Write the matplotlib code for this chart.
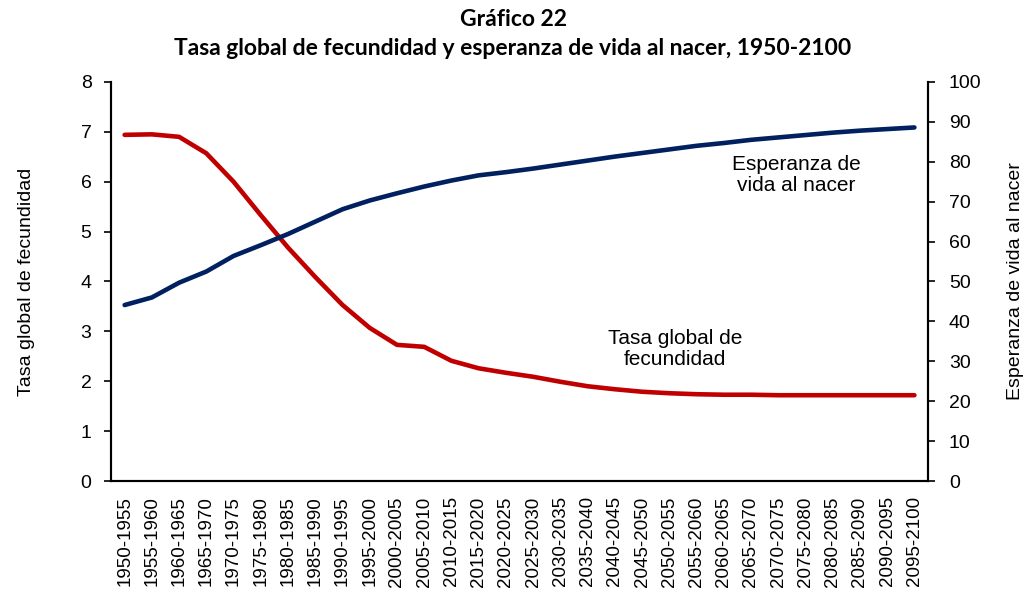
import matplotlib
matplotlib.use("Agg")
import matplotlib.pyplot as plt
import numpy as np

# quinquenios
periodos = ["%d-%d" % (a, a + 5) for a in range(1950, 2100, 5)]

# tasa global de fecundidad (eje izq)
tgf = [6.94, 6.95, 6.90, 6.57, 6.00, 5.33, 4.68, 4.09, 3.53, 3.07,
       2.73, 2.69, 2.41, 2.26, 2.17, 2.09, 1.99, 1.90, 1.84, 1.79,
       1.76, 1.74, 1.73, 1.73, 1.72, 1.72, 1.72, 1.72, 1.72, 1.72]

# esperanza de vida al nacer (eje der)
evn = [44.1, 46.0, 49.7, 52.5, 56.4, 59.1, 61.9, 65.0, 68.1, 70.3,
       72.1, 73.8, 75.3, 76.6, 77.4, 78.3, 79.3, 80.3, 81.3, 82.2,
       83.1, 84.0, 84.7, 85.5, 86.1, 86.7, 87.3, 87.8, 88.2, 88.6]

rojo = "#C00000"
azul = "#002060"
fuente = "Liberation Sans"

fig = plt.figure(figsize=(10.26, 5.94), dpi=100)
ax = fig.add_axes([0.1082, 0.1902, 0.7963, 0.6718])
ax2 = ax.twinx()

x = np.arange(len(periodos))
ax.plot(x, tgf, color=rojo, lw=3.3, solid_capstyle="round", solid_joinstyle="round", zorder=3)
ax2.plot(x, evn, color=azul, lw=3.3, solid_capstyle="round", solid_joinstyle="round", zorder=3)

ax.set_xlim(-0.5, len(periodos) - 0.5)
ax.set_ylim(0, 8)
ax2.set_ylim(0, 100)
ax.set_yticks(range(0, 9))
ax2.set_yticks(range(0, 101, 10))

ax.set_xticks(x)
ax.set_xticklabels(periodos, rotation=90, fontsize=13.5, family=fuente)
ax.tick_params(axis="x", length=0, pad=11)
ax.tick_params(axis="y", direction="out", length=5, width=1.2, labelsize=14, pad=9)
ax2.tick_params(axis="y", direction="out", length=5, width=1.2, labelsize=14, pad=10)
for t in ax.get_yticklabels() + ax2.get_yticklabels():
    t.set_family(fuente)

for a in (ax, ax2):
    a.spines["top"].set_visible(False)
    for s in ("left", "right", "bottom"):
        a.spines[s].set_linewidth(1.5)

ax.set_ylabel("Tasa global de fecundidad", fontsize=14, family=fuente)
ax2.set_ylabel("Esperanza de vida al nacer", fontsize=14, family=fuente, rotation=90)
ax.yaxis.set_label_coords(-0.093, 0.5)
ax2.yaxis.set_label_coords(1.0965, 0.5)

ax.text(20.2, 2.65, "Tasa global de\nfecundidad", fontsize=15, family=fuente,
        ha="center", va="center", linespacing=1.15)
ax2.text(24.65, 76.7, "Esperanza de\nvida al nacer", fontsize=15, family=fuente,
         ha="center", va="center", linespacing=1.15)

fig.text(0.5, 0.968, "Gráfico 22", ha="center", va="center", fontsize=16.5,
         fontweight="bold", family="Lato")
fig.text(0.5, 0.918, "Tasa global de fecundidad y esperanza de vida al nacer, 1950-2100",
         ha="center", va="center", fontsize=16.5, fontweight="bold", family="Lato")

fig.savefig("out.png", dpi=100)
